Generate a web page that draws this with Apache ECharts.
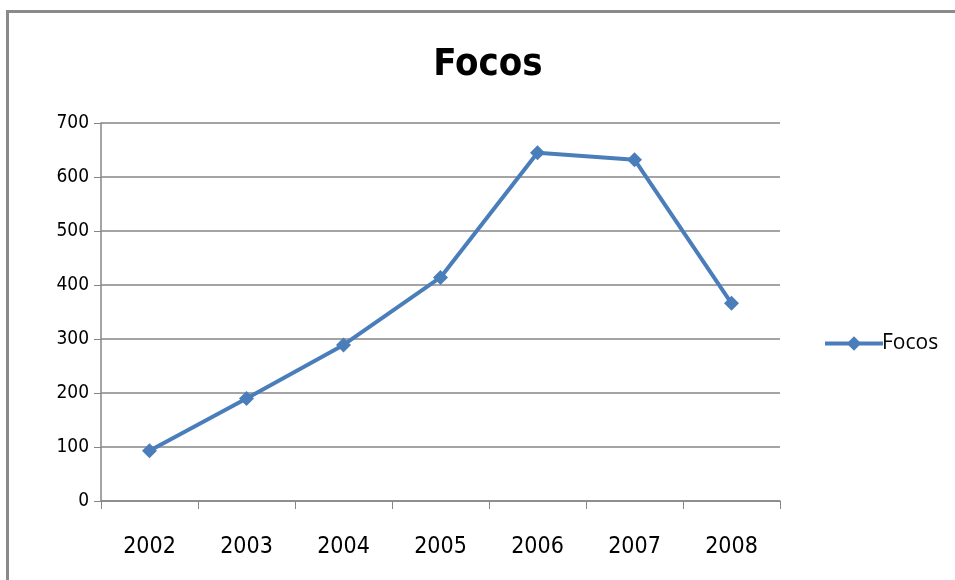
<!DOCTYPE html>
<html>
<head>
<meta charset="utf-8">
<script src="https://cdn.jsdelivr.net/npm/echarts@6/dist/echarts.min.js"></script>
<style>
  body{margin:0;background:#fff;}
  .frame{position:absolute;left:6px;top:10px;width:949px;height:570px;border-left:3px solid #8a8a8a;border-top:3px solid #8a8a8a;}
  #myChart{position:absolute;left:0;top:0;width:955px;height:580px;}
</style>
</head>
<body>
<div class="frame"></div>
<div id="myChart"></div>
<script>
var years = ['2002', '2003', '2004', '2005', '2006', '2007', '2008'];
var focos = [93, 190, 289, 414, 645, 632, 366];

var myChart = echarts.init(document.getElementById('myChart'));
var option = {
  title: {
    text: 'Focos',
    left: 483,
    textAlign: 'center',
    top: 41,
    textStyle: {
      fontFamily: 'DejaVu Sans Condensed',
      fontSize: 38,
      fontWeight: 'bold',
      color: '#000'
    }
  },
  legend: {
    data: ['Focos'],
    left: 818,
    top: 328,
    itemWidth: 58,
    itemHeight: 18,
    itemGap: 4,
    lineStyle: { width: 4 },
    textStyle: {
      fontFamily: 'Open Sans',
      fontSize: 21,
      color: '#000',
      padding: [0, 0, 0, -6]
    }
  },
  grid: {
    left: 101,
    right: 175,
    top: 123,
    bottom: 79
  },
  xAxis: {
    type: 'category',
    data: years,
    boundaryGap: true,
    axisLine: { lineStyle: { color: '#868686', width: 1.5 } },
    axisTick: { show: true, length: 8, lineStyle: { color: '#868686' } },
    axisLabel: {
      margin: 35,
      fontFamily: 'DejaVu Sans Condensed',
      fontSize: 23,
      color: '#000'
    }
  },
  yAxis: {
    type: 'value',
    min: 0,
    max: 700,
    interval: 100,
    axisLine: { show: true, lineStyle: { color: '#868686', width: 1.5 } },
    axisTick: { show: true, length: 7, lineStyle: { color: '#868686' } },
    splitLine: { lineStyle: { color: '#868686', width: 1.5 } },
    axisLabel: {
      margin: 12,
      fontFamily: 'DejaVu Sans Condensed',
      fontSize: 19,
      color: '#000'
    }
  },
  series: [
    {
      name: 'Focos',
      type: 'line',
      data: focos,
      symbol: 'diamond',
      symbolSize: 15,
      lineStyle: { color: '#4a7ebb', width: 4 },
      itemStyle: { color: '#4a7ebb' }
    }
  ]
};
myChart.setOption(option);
</script>
</body>
</html>
